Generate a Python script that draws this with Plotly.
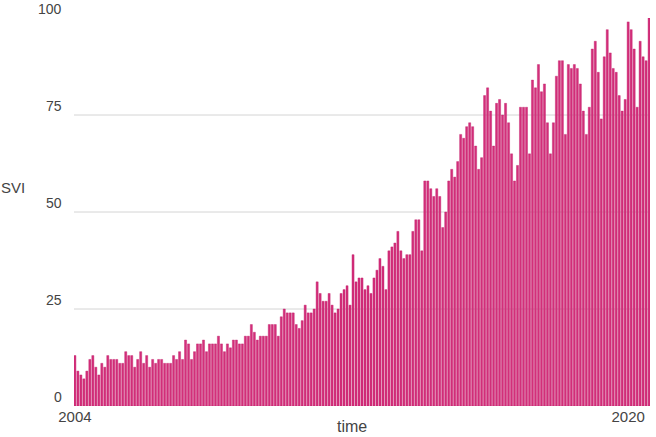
import plotly.graph_objects as go

# Monthly search volume index (SVI), Jan 2004 onward
svi = [
    13, 9, 8, 7, 9, 12, 13, 10, 8, 11, 10, 13, 12, 12, 12, 11, 11, 14, 13, 13, 10, 12, 14, 11, 13, 10, 12, 11, 12, 12, 11, 11,
    11, 13, 12, 14, 12, 17, 16, 12, 14, 16, 16, 17, 14, 16, 16, 16, 18, 16, 14, 16, 15, 17, 17, 16, 16, 18, 18, 21, 19, 17, 18, 18,
    18, 21, 21, 21, 18, 23, 25, 24, 24, 24, 21, 20, 22, 26, 24, 24, 25, 32, 29, 27, 27, 29, 26, 24, 25, 29, 30, 31, 26, 39, 32, 33, 33, 30,
    31, 29, 33, 35, 38, 36, 30, 40, 41, 42, 45, 40, 38, 39, 39, 45, 48, 48, 40, 58, 58, 56, 54, 56, 54, 46, 50, 58, 61, 59, 63,
    70, 69, 72, 73, 72, 67, 61, 64, 80, 82, 76, 67, 78, 79, 75, 78, 73, 65, 58, 62, 77, 77, 77, 65,
    84, 82, 88, 81, 83, 73, 65, 73, 85, 89, 89, 70, 88, 87, 88, 87, 83, 76, 70, 77, 92, 94, 86, 74,
    90, 97, 91, 87, 86, 80, 76, 79, 99, 97, 92, 77, 94, 90, 89, 100,
]
months = list(range(len(svi)))
x_tick_pos = [0, 185]
x_tick_text = ["2004", "2020"]
y_ticks = [0, 25, 50, 75, 100]
grid_levels = [25, 50, 75]

font = dict(family="Liberation Sans, Arial, sans-serif", color="#444444")

fig = go.Figure()
fig.add_trace(go.Bar(
    x=months, y=svi,
    marker=dict(color="#d32f7a", line=dict(color="#c21b6b", width=0.4)),
))

for g in grid_levels:
    fig.add_shape(type="line", xref="paper", x0=0, x1=1, yref="y", y0=g, y1=g,
                  line=dict(color="#d4d4d4", width=1), layer="below")

annotations = [
    dict(text=str(v), xref="paper", yref="y", x=0, y=v, xanchor="right", yanchor="middle",
         xshift=-10, yshift=9, showarrow=False, font=dict(size=14, **font))
    for v in y_ticks
]
annotations += [
    dict(text="SVI", xref="paper", yref="paper", x=-0.13, y=0.562, xanchor="left",
         yanchor="middle", showarrow=False, font=dict(size=15, **font)),
    dict(text="time", xref="paper", yref="paper", x=0.483, y=-0.052, xanchor="center",
         yanchor="middle", showarrow=False, font=dict(size=16, **font)),
]

fig.update_layout(
    width=656, height=437,
    margin=dict(l=74, r=6, t=18, b=31),
    paper_bgcolor="white", plot_bgcolor="white",
    bargap=0.3, showlegend=False,
    font=dict(size=14, **font),
    xaxis=dict(range=[-0.3, len(svi) - 0.7], tickmode="array", tickvals=x_tick_pos,
               ticktext=x_tick_text, showgrid=False, zeroline=False, showline=False,
               ticks="", tickfont=dict(size=15)),
    yaxis=dict(range=[0, 100], showgrid=False, zeroline=False, showline=False,
               showticklabels=False, ticks=""),
    annotations=annotations,
)
fig.write_html("out.html", config={"displayModeBar": False},
               post_script="document.body.style.margin='0px';document.body.style.overflow='hidden';")
